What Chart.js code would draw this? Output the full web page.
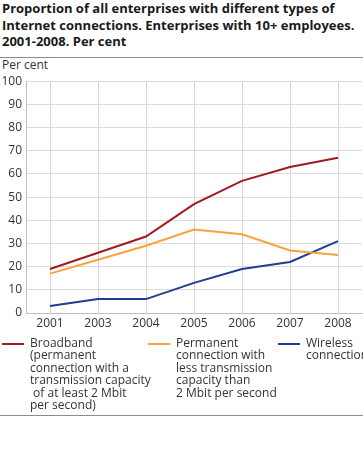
<!DOCTYPE html>
<html>
<head>
<meta charset="utf-8">
<script src="https://cdn.jsdelivr.net/npm/chart.js@4"></script>
<style>
  body { margin: 0; width: 363px; height: 471px; background: #fff; font-family: "Open Sans", sans-serif; color: #222; position: relative; overflow: hidden; }
  #title { position: absolute; left: 2px; top: 0px; font-weight: bold; font-size: 13px; line-height: 16.5px; color: #1a1a1a; white-space: nowrap; }
  .rule { position: absolute; left: 0; width: 363px; height: 1px; background: #8c8c8c; }
  #unit { position: absolute; left: 2px; top: 56px; font-size: 12px; color: #333; }
  #wrap { position: absolute; left: 0; top: 70px; width: 363px; height: 265px; }
  #legend { position: absolute; top: 337px; left: 0; width: 363px; }
  .item { position: absolute; top: 0; }
  .swatch { position: absolute; top: 6px; width: 22px; height: 2px; }
  .txt { position: absolute; left: 28px; top: 0; font-size: 12px; line-height: 12.4px; color: #333; white-space: pre; }
</style>
</head>
<body>
<div id="title">Proportion of all enterprises with different types of<br>Internet connections. Enterprises with 10+ employees.<br>2001-2008. Per cent</div>
<div class="rule" style="top:57px"></div>
<div id="unit">Per cent</div>
<div id="wrap"><canvas id="chart"></canvas></div>
<div id="legend"></div>
<div class="rule" style="top:415px"></div>
<script>
// Kategorier (2002 mangler i kilden)
const years = ['2001', '2003', '2004', '2005', '2006', '2007', '2008'];

const broadband = [19, 26, 33, 47, 57, 63, 67];
const permanent = [17, 23, 29, 36, 34, 27, 25];
const wireless = [3, 6, 6, 13, 19, 22, 31];

const yTicks = [0, 10, 20, 30, 40, 50, 60, 70, 80, 90, 100];

const seriesLabels = [
    ['Broadband', '(permanent', 'connection with a', 'transmission capacity', ' of at least 2 Mbit', 'per second)'],
    ['Permanent', 'connection with', 'less transmission', 'capacity than', '2 Mbit per second'],
    ['Wireless', 'connection']
];
const seriesColors = ['#9e1b21', '#f7a23e', '#1f3d92'];
const legendLeft = [2, 148, 278];

const ctx = document.getElementById('chart').getContext('2d');
const chart = new Chart(ctx, {
    type: 'line',
    data: {
        labels: years,
        datasets: [broadband, permanent, wireless].map((d, i) => ({
            label: seriesLabels[i].join(' '),
            data: d,
            borderColor: seriesColors[i],
            backgroundColor: seriesColors[i],
            borderWidth: 2,
            pointRadius: 0,
            tension: 0
        }))
    },
    options: {
        responsive: true,
        maintainAspectRatio: false,
        animation: false,
        layout: { padding: { top: 2, right: 1, left: 0, bottom: 0 } },
        plugins: { legend: { display: false }, tooltip: { enabled: false } },
        scales: {
            x: {
                offset: true,
                grid: { offset: false, color: '#d4d4d4', drawTicks: false, tickLength: 0 },
                border: { color: '#bdbdbd' },
                ticks: { color: '#333', font: { family: 'Open Sans', size: 12, lineHeight: 1 }, padding: 5, maxRotation: 0 }
            },
            y: {
                min: 0,
                max: 100,
                afterBuildTicks: s => { s.ticks = yTicks.map(v => ({ value: v })); },
                afterFit: s => { s.width = 26; },
                grid: { color: '#dcdcdc', drawTicks: false, tickLength: 0 },
                border: { color: '#bdbdbd' },
                ticks: { color: '#333', font: { family: 'Open Sans', size: 12 }, padding: 4 }
            }
        }
    }
});

// Legende bygd fra datasettene
const legend = document.getElementById('legend');
chart.data.datasets.forEach((ds, i) => {
    const item = document.createElement('div');
    item.className = 'item';
    item.style.left = legendLeft[i] + 'px';
    const sw = document.createElement('div');
    sw.className = 'swatch';
    sw.style.background = ds.borderColor;
    const txt = document.createElement('div');
    txt.className = 'txt';
    txt.textContent = seriesLabels[i].join('\n');
    item.appendChild(sw);
    item.appendChild(txt);
    legend.appendChild(item);
});
</script>
</body>
</html>
